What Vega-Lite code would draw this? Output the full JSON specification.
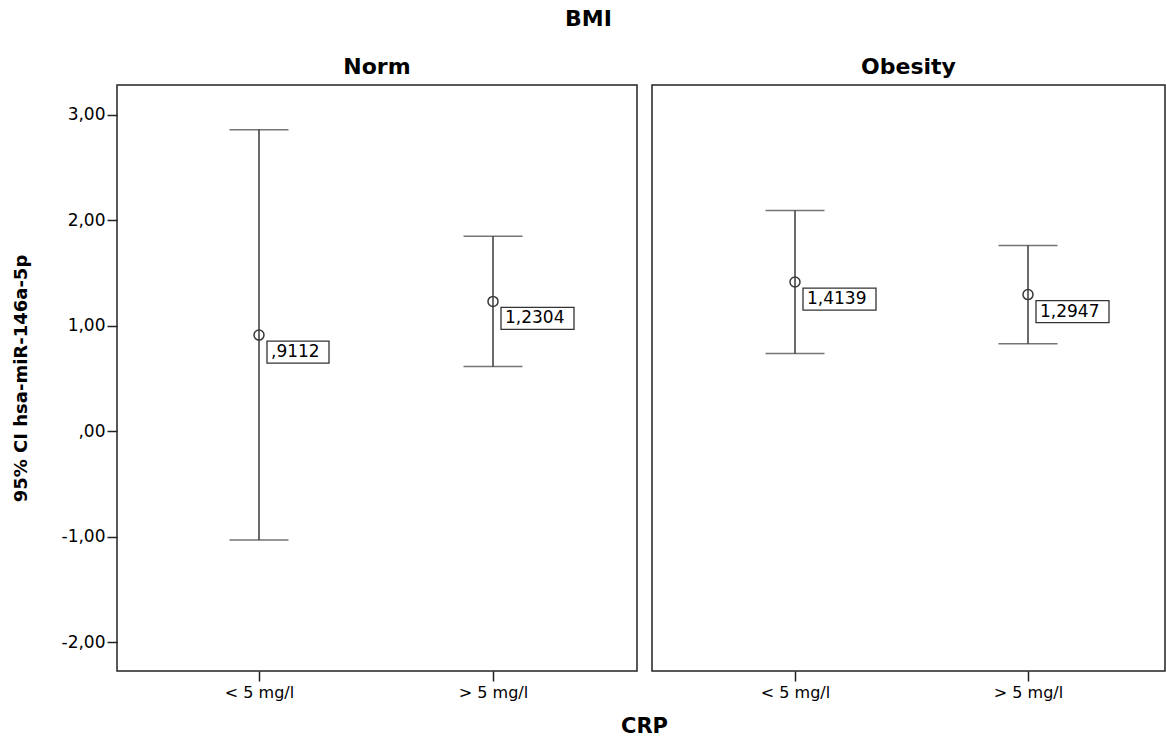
{
  "$schema": "https://vega.github.io/schema/vega-lite/v6.json",
  "background": "white",
  "padding": {"left": 11, "top": 8, "right": 0, "bottom": 0},
  "bounds": "flush",
  "spacing": 15,
  "title": {"text": "BMI", "font": "DejaVu Sans", "fontSize": 22, "fontWeight": "bold", "color": "black", "anchor": "middle", "offset": 24},
  "datasets": {
    "ci": [
      {"BMI": "Norm", "CRP": "< 5 mg/l", "mean": 0.9112, "lower": -1.03, "upper": 2.855, "label": ",9112"},
      {"BMI": "Norm", "CRP": "> 5 mg/l", "mean": 1.2304, "lower": 0.614, "upper": 1.848, "label": "1,2304"},
      {"BMI": "Obesity", "CRP": "< 5 mg/l", "mean": 1.4139, "lower": 0.737, "upper": 2.091, "label": "1,4139"},
      {"BMI": "Obesity", "CRP": "> 5 mg/l", "mean": 1.2947, "lower": 0.830, "upper": 1.760, "label": "1,2947"}
    ]
  },
  "config": {
    "view": {"stroke": "#222222", "strokeWidth": 1.5},
    "axis": {"grid": false, "domain": false, "labelFont": "DejaVu Sans", "labelColor": "black", "tickColor": "#222222", "tickWidth": 1.5, "titleFont": "DejaVu Sans", "titleFontWeight": "bold", "titleColor": "black"},
    "axisX": {"tickSize": 10, "labelPadding": 3, "labelFontSize": 16, "labelAngle": 0},
    "axisY": {"tickSize": 10, "labelPadding": 2, "labelFontSize": 17, "titleFontSize": 18, "titlePadding": 31},
    "title": {"font": "DejaVu Sans", "fontSize": 22, "fontWeight": "bold", "color": "black"}
  },
  "hconcat": [
    {
      "width": 520,
      "height": 586,
      "title": {"text": "Norm", "anchor": "middle", "offset": 6},
      "data": {"name": "ci"},
      "transform": [{"filter": "datum.BMI == 'Norm'"}],
      "encoding": {
        "x": {"field": "CRP", "type": "nominal", "sort": ["< 5 mg/l", "> 5 mg/l"],
              "scale": {"type": "point", "domain": ["< 5 mg/l", "> 5 mg/l"], "range": [142, 376], "padding": 0},
              "axis": {"title": "CRP", "titleFontSize": 21, "titleX": 527, "titleY": 55, "titleBaseline": "middle", "titleAlign": "center"}}
      },
      "layer": [
        {
          "mark": {"type": "rule", "color": "#3a3a3a", "strokeWidth": 1.5},
          "encoding": {
            "y": {"field": "lower", "type": "quantitative", "title": "95% CI hsa-miR-146a-5p",
                  "scale": {"domain": [-2.27, 3.28], "nice": false, "zero": false},
                  "axis": {"values": [-2, -1, 0, 1, 2, 3], "labelExpr": "datum.value == 0 ? ',00' : replace(replace(format(datum.value, '.2f'), '.', ','), '\u2212', '-')"}},
            "y2": {"field": "upper"}
          }
        },
        {
          "mark": {"type": "tick", "orient": "horizontal", "color": "#3a3a3a", "size": 59, "thickness": 1.5},
          "encoding": {"y": {"field": "lower", "type": "quantitative", "title": "95% CI hsa-miR-146a-5p"}}
        },
        {
          "mark": {"type": "tick", "orient": "horizontal", "color": "#3a3a3a", "size": 59, "thickness": 1.5},
          "encoding": {"y": {"field": "upper", "type": "quantitative", "title": "95% CI hsa-miR-146a-5p"}}
        },
        {
          "mark": {"type": "point", "shape": "circle", "filled": false, "size": 100, "stroke": "#3a3a3a", "strokeWidth": 1.5, "opacity": 1},
          "encoding": {"y": {"field": "mean", "type": "quantitative", "title": "95% CI hsa-miR-146a-5p"}}
        },
        {
          "mark": {"type": "point", "filled": true, "fill": "white", "stroke": "#333333", "strokeWidth": 1.3, "size": 6400, "opacity": 1, "fillOpacity": 1},
          "encoding": {
            "y": {"field": "mean", "type": "quantitative", "title": "95% CI hsa-miR-146a-5p"},
            "shape": {"field": "label", "type": "nominal", "legend": null,
                      "scale": {"domain": [",9112", "1,2304", "1,4139", "1,2947"],
                                "range": ["M0.2,0.15H1.75V0.7H0.2Z", "M0.2,0.15H2.025V0.7H0.2Z", "M0.2,0.15H2.025V0.7H0.2Z", "M0.2,0.15H2.025V0.7H0.2Z"]}}
          }
        },
        {
          "mark": {"type": "text", "align": "left", "baseline": "middle", "dx": 12, "dy": 17, "font": "DejaVu Sans", "fontSize": 17, "color": "black"},
          "encoding": {
            "y": {"field": "mean", "type": "quantitative", "title": "95% CI hsa-miR-146a-5p"},
            "text": {"field": "label"}
          }
        }
      ]
    },
    {
      "width": 513,
      "height": 586,
      "title": {"text": "Obesity", "anchor": "middle", "offset": 6},
      "data": {"name": "ci"},
      "transform": [{"filter": "datum.BMI == 'Obesity'"}],
      "encoding": {
        "x": {"field": "CRP", "type": "nominal", "sort": ["< 5 mg/l", "> 5 mg/l"],
              "scale": {"type": "point", "domain": ["< 5 mg/l", "> 5 mg/l"], "range": [143, 376], "padding": 0},
              "axis": {"title": null}}
      },
      "layer": [
        {
          "mark": {"type": "rule", "color": "#3a3a3a", "strokeWidth": 1.5},
          "encoding": {
            "y": {"field": "lower", "type": "quantitative", "scale": {"domain": [-2.27, 3.28], "nice": false, "zero": false}, "axis": null},
            "y2": {"field": "upper"}
          }
        },
        {
          "mark": {"type": "tick", "orient": "horizontal", "color": "#3a3a3a", "size": 59, "thickness": 1.5},
          "encoding": {"y": {"field": "lower", "type": "quantitative", "axis": null}}
        },
        {
          "mark": {"type": "tick", "orient": "horizontal", "color": "#3a3a3a", "size": 59, "thickness": 1.5},
          "encoding": {"y": {"field": "upper", "type": "quantitative", "axis": null}}
        },
        {
          "mark": {"type": "point", "shape": "circle", "filled": false, "size": 100, "stroke": "#3a3a3a", "strokeWidth": 1.5, "opacity": 1},
          "encoding": {"y": {"field": "mean", "type": "quantitative", "axis": null}}
        },
        {
          "mark": {"type": "point", "filled": true, "fill": "white", "stroke": "#333333", "strokeWidth": 1.3, "size": 6400, "opacity": 1, "fillOpacity": 1},
          "encoding": {
            "y": {"field": "mean", "type": "quantitative", "axis": null},
            "shape": {"field": "label", "type": "nominal", "legend": null,
                      "scale": {"domain": [",9112", "1,2304", "1,4139", "1,2947"],
                                "range": ["M0.2,0.15H1.75V0.7H0.2Z", "M0.2,0.15H2.025V0.7H0.2Z", "M0.2,0.15H2.025V0.7H0.2Z", "M0.2,0.15H2.025V0.7H0.2Z"]}}
          }
        },
        {
          "mark": {"type": "text", "align": "left", "baseline": "middle", "dx": 12, "dy": 17, "font": "DejaVu Sans", "fontSize": 17, "color": "black"},
          "encoding": {
            "y": {"field": "mean", "type": "quantitative", "axis": null},
            "text": {"field": "label"}
          }
        }
      ]
    }
  ]
}
